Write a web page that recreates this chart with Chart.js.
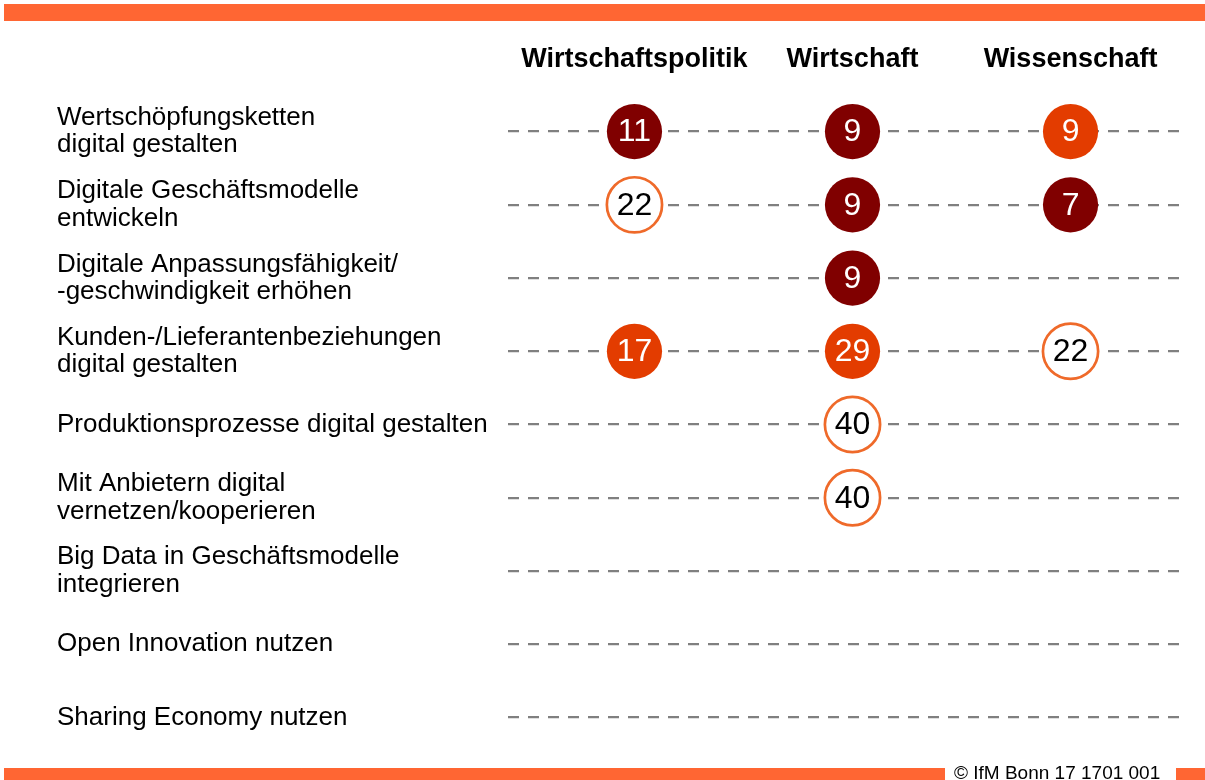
<!DOCTYPE html>
<html lang="de">
<head>
<meta charset="utf-8">
<title>Digitalisierung – Handlungsfelder</title>
<script src="https://cdn.jsdelivr.net/npm/chart.js@4/dist/chart.umd.min.js"></script>
<style>
  html, body { margin: 0; padding: 0; background: #fff; }
  #wrap { position: relative; width: 1205px; height: 780px; overflow: hidden; }
  #chart { position: absolute; left: 0; top: 0; }
  .bar { position: absolute; background: #ff6633; }
  #topbar { left: 4px; top: 4px; width: 1201px; height: 17px; }
  #botbar1 { left: 4px; top: 768px; width: 941px; height: 12px; }
  #botbar2 { left: 1176px; top: 768px; width: 29px; height: 12px; }
  #credit {
    position: absolute; left: 954px; top: 763px;
    font: 19px/19px "Liberation Sans", Arial, sans-serif; color: #000; white-space: nowrap;
  }
</style>
</head>
<body>
<div id="wrap">
  <canvas id="chart" width="1205" height="780"></canvas>
  <div class="bar" id="topbar"></div>
  <div class="bar" id="botbar1"></div>
  <div class="bar" id="botbar2"></div>
  <div id="credit">© IfM Bonn 17 1701 001</div>
</div>
<script>
// Zeilen (Handlungsfelder), mehrzeilig wie im Original
const rowLabels = [
  ['Wertschöpfungsketten', 'digital gestalten'],
  ['Digitale Geschäftsmodelle', 'entwickeln'],
  ['Digitale Anpassungsfähigkeit/', '-geschwindigkeit erhöhen'],
  ['Kunden-/Lieferantenbeziehungen', 'digital gestalten'],
  ['Produktionsprozesse digital gestalten'],
  ['Mit Anbietern digital', 'vernetzen/kooperieren'],
  ['Big Data in Geschäftsmodelle', 'integrieren'],
  ['Open Innovation nutzen'],
  ['Sharing Economy nutzen']
];

// Spalten
const columns = ['Wirtschaftspolitik', 'Wirtschaft', 'Wissenschaft'];

// Werte je Spalte (null = kein Kreis)
const valuesWirtschaftspolitik = [11, 22, null, 17, null, null, null, null, null];
const valuesWirtschaft         = [9, 9, 9, 29, 40, 40, null, null, null];
const valuesWissenschaft       = [9, 7, null, 22, null, null, null, null, null];

// Einstufung je Kreis: 0 = dunkelrot, 1 = orange, 2 = offen
const classWirtschaftspolitik = [0, 2, null, 1, null, null, null, null, null];
const classWirtschaft         = [0, 0, 0, 1, 2, 2, null, null, null];
const classWissenschaft       = [1, 0, null, 2, null, null, null, null, null];

const fills   = ['#800000', '#e33c00', '#ffffff'];
const borders = ['#800000', '#e33c00', '#ef6a2a'];
const textCol = ['#ffffff', '#ffffff', '#000000'];

const rowKeys = rowLabels.map(l => l.join(' '));
const series  = [valuesWirtschaftspolitik, valuesWirtschaft, valuesWissenschaft];
const classes = [classWirtschaftspolitik, classWirtschaft, classWissenschaft];

const datasets = series.map((vals, c) => {
  const pts = [];
  vals.forEach((v, r) => {
    if (v !== null) pts.push({ x: c, y: rowKeys[r], v: v, k: classes[c][r] });
  });
  return {
    label: columns[c],
    data: pts,
    pointRadius: 27.6,
    pointBackgroundColor: pts.map(p => fills[p.k]),
    pointBorderColor: pts.map(p => borders[p.k]),
    pointBorderWidth: pts.map(p => p.k === 2 ? 2.7 : 0)
  };
});

// Zahlen in die Kreise schreiben
const valueLabels = {
  id: 'valueLabels',
  afterDatasetsDraw(chart) {
    const ctx = chart.ctx;
    ctx.save();
    ctx.font = '32px "Liberation Sans", Arial, sans-serif';
    ctx.textAlign = 'center';
    ctx.textBaseline = 'middle';
    chart.data.datasets.forEach((ds, i) => {
      chart.getDatasetMeta(i).data.forEach((pt, j) => {
        const d = ds.data[j];
        ctx.fillStyle = textCol[d.k];
        ctx.fillText(String(d.v), pt.x, pt.y + 1);
      });
    });
    ctx.restore();
  }
};

Chart.defaults.font.family = '"Liberation Sans", Arial, sans-serif';
Chart.defaults.color = '#000';

new Chart(document.getElementById('chart'), {
  type: 'scatter',
  data: { datasets: datasets },
  options: {
    responsive: false,
    animation: false,
    events: [],
    layout: { autoPadding: false, padding: { left: 57, right: 20, top: 30, bottom: 26 } },
    plugins: { legend: { display: false }, tooltip: { enabled: false } },
    scales: {
      x: {
        type: 'linear',
        position: 'top',
        min: -0.58,
        max: 2.525,
        afterBuildTicks: scale => { scale.ticks = columns.map((c, i) => ({ value: i })); },
        afterFit: scale => {
          scale.height = 65;
          scale.paddingLeft = 0;
          scale.paddingRight = 0;
        },
        grid: { display: false, drawTicks: false },
        border: { display: false },
        ticks: {
          padding: 19,
          maxRotation: 0,
          autoSkip: false,
          font: { size: 27, weight: 'bold' },
          callback: v => columns[v]
        }
      },
      y: {
        type: 'category',
        labels: rowKeys,
        offset: true,
        afterFit: scale => {
          scale.width = 451;
          scale.paddingTop = 0;
          scale.paddingBottom = 0;
        },
        grid: { offset: false, color: '#808080', lineWidth: 2.3, drawTicks: false },
        border: { display: false, dash: [11, 9] },
        ticks: {
          crossAlign: 'far',
          padding: 0,
          autoSkip: false,
          font: { size: 26, lineHeight: 1.05 },
          callback: (v, i) => rowLabels[i]
        }
      }
    }
  },
  plugins: [valueLabels]
});
</script>
</body>
</html>
